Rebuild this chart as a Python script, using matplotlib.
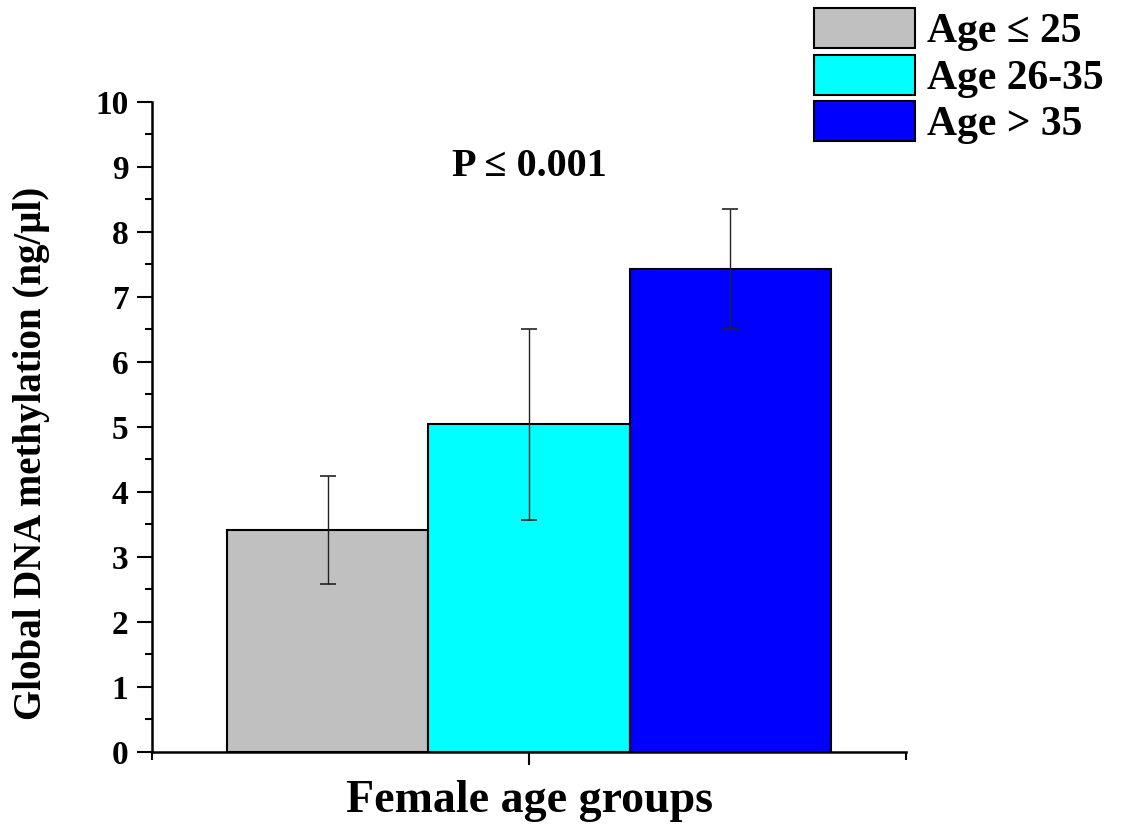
import matplotlib
matplotlib.use("Agg")
import matplotlib.pyplot as plt
from matplotlib.ticker import MultipleLocator, FixedLocator

# Data
groups = ["Age \u2264 25", "Age 26-35", "Age > 35"]
means = [3.41, 5.04, 7.43]
errors = [0.83, 1.47, 0.93]
colors = ["#C0C0C0", "#00FFFF", "#0000FF"]
ylabel = "Global DNA methylation (ng/\u00b5l)"
xlabel = "Female age groups"
ptext = "P \u2264 0.001"

plt.rcParams['font.family'] = ['Liberation Serif', 'DejaVu Serif']
plt.rcParams['font.weight'] = 'bold'

fig = plt.figure(figsize=(11.22, 8.27), dpi=100)
ax = fig.add_axes([0.1355, 0.0907, 0.672, 0.786])

positions = [1, 2, 3]
handles = []
for p, m, e, c, g in zip(positions, means, errors, colors, groups):
    b = ax.bar(p, m, width=1.0, color=c, edgecolor='black', linewidth=1.5, label=g, zorder=2)
    handles.append(b)
    ax.errorbar(p, m, yerr=e, fmt='none', ecolor='#222222', elinewidth=1.0,
                capsize=5.8, capthick=1.2, zorder=3)

ax.set_xlim(0.125, 3.875)
ax.set_ylim(0, 10)
ax.set_xticks([2])
ax.set_xticklabels([''])
ax.xaxis.set_minor_locator(FixedLocator([0.125, 3.875]))
ax.yaxis.set_major_locator(MultipleLocator(1))
ax.yaxis.set_minor_locator(MultipleLocator(0.5))

for s in ['top', 'right']:
    ax.spines[s].set_visible(False)
for s in ['left', 'bottom']:
    ax.spines[s].set_linewidth(1.8)

ax.tick_params(axis='y', which='major', length=11, width=1.5, direction='out', labelsize=24, pad=6)
ax.tick_params(axis='y', which='minor', length=5, width=1.5, direction='out')
ax.tick_params(axis='x', which='major', length=9, width=1.5, direction='out')
ax.tick_params(axis='x', which='minor', length=6, width=1.5, direction='out')
for lab in ax.get_yticklabels():
    lab.set_fontweight('bold')

ax.set_ylabel(ylabel, fontsize=28, fontweight='bold')
ax.yaxis.set_label_coords(-0.135, 0.46)
ax.set_xlabel(xlabel, fontsize=33, fontweight='bold', labelpad=8)

ax.text(2.0, 9.0, ptext, fontsize=29, fontweight='bold', ha='center', va='center')

leg = ax.legend(handles=handles, labels=groups, loc='upper left',
                bbox_to_anchor=(0.7255, 0.99), bbox_transform=fig.transFigure,
                frameon=False, handlelength=2.42, handleheight=1.1,
                handletextpad=0.3, labelspacing=0.08, borderpad=0.0,
                borderaxespad=0.0, prop={'weight': 'bold', 'size': 30})

fig.savefig("out.png", dpi=100)
